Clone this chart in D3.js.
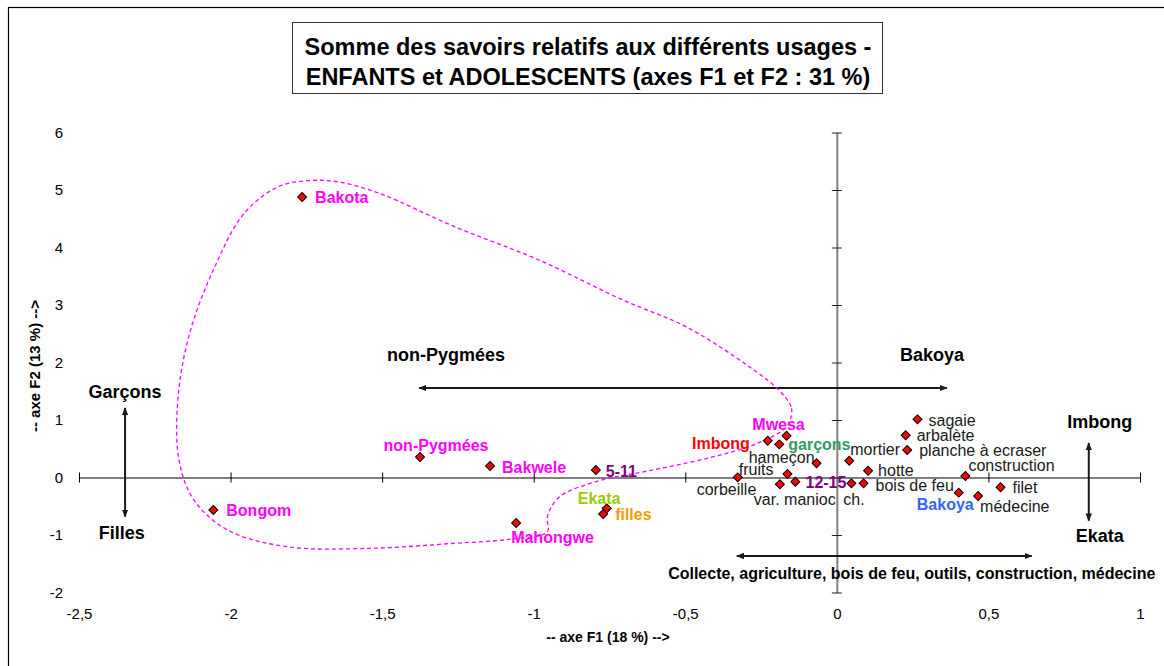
<!DOCTYPE html>
<html><head><meta charset="utf-8">
<script src="https://cdn.jsdelivr.net/npm/d3@7"></script>
<style>body{margin:0;background:#fff} svg{display:block}</style>
</head><body>
<svg id="c" width="1164" height="666"></svg>
<script>
// ---------- data ----------
const titleLines = ["Somme des savoirs relatifs aux différents usages -", "ENFANTS et ADOLESCENTS (axes F1 et F2 : 31 %)"];
const xTicks = [-2.5, -2, -1.5, -1, -0.5, 0, 0.5, 1];
const yTicks = [-2, -1, 0, 1, 2, 3, 4, 5, 6];
const xAxisTitle = "-- axe F1 (18 %) -->";
const yAxisTitle = "-- axe F2 (13 %) -->";

const pointNames = ["Bakota","Bongom","non-Pygmées","Bakwele","5-11","Mahongwe","Ekata","filles",
  "Imbong","Mwesa","garçons","hameçon","fruits","corbeille","var. manioc","ch.","12-15","bois de feu",
  "hotte","mortier","sagaie","arbalète","planche à ecraser","construction","Bakoya","médecine","filet"];
const f1Values = [-1.764,-2.057,-1.375,-1.144,-0.795,-1.058,-0.759,-0.771,
  -0.228,-0.166,-0.190,-0.067,-0.163,-0.327,-0.188,-0.137,0.048,0.088,
  0.103,0.041,0.266,0.227,0.232,0.424,0.402,0.466,0.540];
const f2Values = [4.878,-0.565,0.357,0.200,0.130,-0.791,-0.536,-0.635,
  0.640,0.727,0.577,0.247,0.061,0.003,-0.118,-0.073,-0.101,-0.101,
  0.118,0.292,1.012,0.734,0.478,0.026,-0.264,-0.322,-0.170];
const pointKinds = ["nonPygmy","nonPygmy","nonPygmy","nonPygmy","age","nonPygmy","ekata","girls",
  "imbong","nonPygmy","boys","usage","usage","usage","usage","usage","age","usage",
  "usage","usage","usage","usage","usage","usage","bakoya","usage","usage"];

// dashed envelope around the non-Pygmy groups (F1, F2)
const envelopeF1 = [-0.151,-0.151,-0.192,-0.289,-0.498,-0.706,-0.983,-1.261,-1.510,-1.648,-1.746,-1.843,-1.955,-2.052,-2.135,-2.174,-2.170,-2.121,-2.010,-1.816,-1.538,-1.261,-1.080,-0.955,-0.955,-0.914,-0.775,-0.636,-0.428,-0.262,-0.165];
const envelopeF2 = [1.057,1.231,1.522,1.927,2.623,3.087,3.783,4.362,4.943,5.144,5.162,5.057,4.595,3.666,2.508,1.348,0.304,-0.391,-0.913,-1.203,-1.231,-1.144,-1.075,-0.943,-0.682,-0.334,-0.043,0.101,0.334,0.595,0.883];

// interpretation arrows (F1,F2 of both ends)
const arrowNames = ["ethnie","sexe","village","usages"];
const arrowFrom = [[-1.378,1.557],[-2.348,1.209],[0.831,0.600],[-0.330,-1.365]];
const arrowTo   = [[0.363,1.557],[-2.348,-0.682],[0.831,-0.751],[0.643,-1.365]];
const annotTexts = ["non-Pygmées","Bakoya","Garçons","Filles","Imbong","Ekata","Collecte, agriculture, bois de feu, outils, construction, médecine"];
const annotF1 = [-1.484,0.208,-2.348,-2.359,0.867,0.867,0.247];
const annotF2 = [2.130,2.130,1.492,-0.960,0.970,-1.017,-1.661];

// ---------- styling / layout ----------
const kindColor = {nonPygmy:"#FF00FF", age:"#800080", ekata:"#99CC00", girls:"#FF9900", imbong:"#FF0000",
  boys:"#339966", bakoya:"#3366FF", usage:"#1a1a1a"};
const labelOffsets = {"Bakota":[13,0,"start"],"Bongom":[13,1,"start"],"non-Pygmées":[16,-11,"middle"],
  "Bakwele":[12,1,"start"],"5-11":[10,1,"start"],"Mahongwe":[-5,15,"start"],"Ekata":[-29,-10,"start"],
  "filles":[12,0,"start"],"Imbong":[-18,3,"end"],"Mwesa":[-8,-11,"middle"],"garçons":[9,0,"start"],
  "hameçon":[-2,-6,"end"],"fruits":[-14,-4,"end"],"corbeille":[-41,12,"start"],"var. manioc":[-26,15,"start"],
  "ch.":[48,18,"start"],"12-15":[-5,-1,"end"],"bois de feu":[12,2,"start"],"hotte":[10,0,"start"],
  "mortier":[1,-11,"start"],"sagaie":[11,1,"start"],"arbalète":[11,0,"start"],"planche à ecraser":[12,0,"start"],
  "construction":[3,-11,"start"],"Bakoya":[15,12,"end"],"médecine":[2,10,"start"],"filet":[12,0,"start"]};
const annotAnchor = ["start","start","middle","middle","middle","middle","middle"];
const annotSize = [18,18,18,18,18,18,16];

const FONT = "'Liberation Sans', Arial, sans-serif";
const NARROW = "'Liberation Sans Narrow', 'Arial Narrow', 'Liberation Sans', Arial, sans-serif";

const svg = d3.select("#c");
const x = d3.scaleLinear().domain([-2.5, 1]).range([79, 1140]);
const y = d3.scaleLinear().domain([-2, 6]).range([592.5, 132.5]);
const fmt = v => String(v).replace(".", ",");

// outer border
svg.append("rect").attr("x", 8.5).attr("y", 7.5).attr("width", 1200).attr("height", 700)
  .attr("fill", "#fff").attr("stroke", "#000").attr("stroke-width", 1.2);

// title box
svg.append("rect").attr("x", 292.5).attr("y", 22.5).attr("width", 590).attr("height", 71)
  .attr("fill", "#fff").attr("stroke", "#333").attr("stroke-width", 1);
svg.append("g").selectAll("text").data(titleLines).join("text")
  .attr("x", 588).attr("y", (d, i) => 47 + i * 30)
  .attr("text-anchor", "middle").attr("dominant-baseline", "central")
  .attr("font-family", FONT).attr("font-weight", "bold").attr("font-size", 23.5).attr("fill", "#000")
  .text(d => d);

// horizontal axis through F2 = 0
const gx = svg.append("g").attr("transform", `translate(0,${y(0)})`)
  .call(d3.axisBottom(x).tickValues(xTicks).tickSize(5).tickSizeOuter(0).tickFormat(""));
gx.select(".domain").attr("stroke", "#000").attr("stroke-width", 1.2);
gx.selectAll(".tick line").attr("y1", -5).attr("y2", 5).attr("stroke", "#000");

// vertical axis through F1 = 0
const gy = svg.append("g").attr("transform", `translate(${x(0)},0)`)
  .call(d3.axisLeft(y).tickValues(yTicks).tickSize(5).tickSizeOuter(0).tickFormat(""));
gy.select(".domain").attr("stroke", "#808080").attr("stroke-width", 2);
gy.selectAll(".tick line").attr("x1", -5).attr("x2", 5).attr("stroke", "#222");

// tick labels at low positions
const lx = svg.append("g").attr("transform", "translate(0,605)")
  .call(d3.axisBottom(x).tickValues(xTicks).tickSize(0).tickFormat(fmt));
lx.select(".domain").remove();
lx.selectAll("text").attr("font-family", NARROW).attr("font-size", 15).attr("fill", "#000");

const ly = svg.append("g").attr("transform", "translate(66,0)")
  .call(d3.axisLeft(y).tickValues(yTicks).tickSize(0).tickFormat(fmt));
ly.select(".domain").remove();
ly.selectAll("text").attr("font-family", FONT).attr("font-size", 15).attr("fill", "#000");

// axis titles
svg.append("text").attr("x", 608).attr("y", 637).attr("text-anchor", "middle").attr("dominant-baseline", "central")
  .attr("font-family", NARROW).attr("font-weight", "bold").attr("font-size", 14).text(xAxisTitle);
svg.append("text").attr("transform", "translate(34,366) rotate(-90)").attr("text-anchor", "middle")
  .attr("dominant-baseline", "central").attr("font-family", FONT).attr("font-weight", "bold")
  .attr("font-size", 15).text(yAxisTitle);

// arrow markers
const defs = svg.append("defs");
["a-end", "a-start"].forEach((id, i) => {
  defs.append("marker").attr("id", id).attr("viewBox", "0 0 10 10").attr("refX", 9).attr("refY", 5)
    .attr("markerWidth", 4).attr("markerHeight", 4).attr("orient", i === 0 ? "auto" : "auto-start-reverse")
    .append("path").attr("d", "M0,1 L10,5 L0,9 Z").attr("fill", "#1a1a1a");
});
svg.append("g").selectAll("line").data(arrowNames).join("line")
  .attr("x1", (d, i) => x(arrowFrom[i][0])).attr("y1", (d, i) => y(arrowFrom[i][1]))
  .attr("x2", (d, i) => x(arrowTo[i][0])).attr("y2", (d, i) => y(arrowTo[i][1]))
  .attr("stroke", "#1a1a1a").attr("stroke-width", 2)
  .attr("marker-end", "url(#a-end)").attr("marker-start", "url(#a-start)");

svg.append("g").selectAll("text").data(annotTexts).join("text")
  .attr("x", (d, i) => x(annotF1[i])).attr("y", (d, i) => y(annotF2[i]))
  .attr("text-anchor", (d, i) => annotAnchor[i]).attr("dominant-baseline", "central")
  .attr("font-family", FONT).attr("font-weight", "bold").attr("font-size", (d, i) => annotSize[i])
  .attr("fill", "#000").text(d => d);

// dashed envelope
const env = envelopeF1.map((v, i) => [v, envelopeF2[i]]);
svg.append("path").datum(env)
  .attr("d", d3.line().x(d => x(d[0])).y(d => y(d[1])).curve(d3.curveCatmullRomClosed.alpha(0.5)))
  .attr("fill", "none").attr("stroke", "#FF00FF").attr("stroke-width", 1.3).attr("stroke-dasharray", "4,3");

// points
const pts = pointNames.map((n, i) => ({name: n, f1: f1Values[i], f2: f2Values[i], kind: pointKinds[i]}));
const diamond = d3.symbol().type(d3.symbolSquare).size(40);
svg.append("g").selectAll("path").data(pts).join("path")
  .attr("d", diamond)
  .attr("transform", d => `translate(${x(d.f1)},${y(d.f2)}) rotate(45)`)
  .attr("fill", "#FF0000").attr("stroke", "#000").attr("stroke-width", 1);

// labels
svg.append("g").selectAll("text").data(pts).join("text")
  .attr("x", d => x(d.f1) + labelOffsets[d.name][0])
  .attr("y", d => y(d.f2) + labelOffsets[d.name][1])
  .attr("text-anchor", d => labelOffsets[d.name][2])
  .attr("dominant-baseline", "central")
  .attr("font-family", FONT).attr("font-size", 16)
  .attr("font-weight", d => d.kind === "usage" ? "normal" : "bold")
  .attr("fill", d => kindColor[d.kind])
  .text(d => d.name);
</script>
</body></html>
